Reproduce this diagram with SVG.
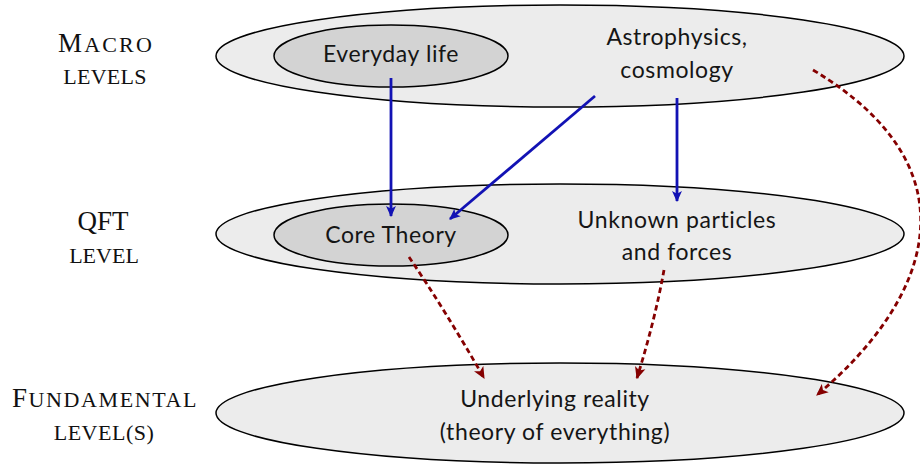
<svg xmlns="http://www.w3.org/2000/svg" width="920" height="465" viewBox="0 0 920 465">
<style>
.outer{fill:#ececec;stroke:#000;stroke-width:1.5}
.inner{fill:#d3d3d3;stroke:#000;stroke-width:1.5}
.t{font-family:"Lato","Open Sans",sans-serif;font-size:23px;letter-spacing:0.6px;fill:#151515;text-anchor:middle}
.lab{font-family:"Liberation Serif","Times New Roman",serif;fill:#111;text-anchor:middle}
.big{font-size:27px}
.sm{font-size:22px}
.blue{stroke:#1212b4;stroke-width:2.8;fill:none}
.red{stroke:#850000;stroke-width:2.8;fill:none;stroke-dasharray:5.5 3.5}
</style>
<defs>
<marker id="ab" viewBox="0 0 10 10" refX="9" refY="5" markerWidth="11" markerHeight="11" markerUnits="userSpaceOnUse" orient="auto">
<path d="M0,0.5 L10,5 L0,9.5 L2.5,5 z" fill="#1212b4"/>
</marker>
<marker id="ar" viewBox="0 0 10 10" refX="9" refY="5" markerWidth="12" markerHeight="12" markerUnits="userSpaceOnUse" orient="auto">
<path d="M0,0.5 L10,5 L0,9.5 L2.5,5 z" fill="#850000"/>
</marker>
</defs>
<g id="labels">
<text class="lab" x="106" y="52" letter-spacing="2.2"><tspan class="big">M</tspan><tspan class="sm">ACRO</tspan></text>
<text class="lab sm" x="105" y="84" letter-spacing="0.3">LEVELS</text>
<text class="lab big" x="103" y="230">QFT</text>
<text class="lab sm" x="104" y="263">LEVEL</text>
<text class="lab" x="105" y="407" letter-spacing="1.6"><tspan class="big">F</tspan><tspan class="sm">UNDAMENTAL</tspan></text>
<text class="lab sm" x="104" y="440" letter-spacing="0.5">LEVEL(S)</text>
</g>
<g id="macro">
<ellipse class="outer" cx="560" cy="56" rx="344" ry="51"/>
<text class="t" x="677" y="45">Astrophysics,</text>
<text class="t" x="677" y="78">cosmology</text>
</g>
<g id="everyday">
<ellipse class="inner" cx="391" cy="56" rx="117" ry="31"/>
<text class="t" x="391" y="62">Everyday life</text>
</g>
<g id="qft">
<ellipse class="outer" cx="560" cy="234" rx="344" ry="50"/>
<text class="t" x="677" y="228">Unknown particles</text>
<text class="t" x="677" y="260">and forces</text>
</g>
<g id="core">
<ellipse class="inner" cx="391" cy="235" rx="117" ry="31"/>
<text class="t" x="391" y="243">Core Theory</text>
</g>
<g id="fundamental">
<ellipse class="outer" cx="560" cy="413" rx="344" ry="50"/>
<text class="t" x="555" y="407">Underlying reality</text>
<text class="t" x="555" y="440">(theory of everything)</text>
</g>
<g id="connectors">
<path class="blue" d="M391,78 L391,216" marker-end="url(#ab)"/>
<path class="blue" d="M595,96 L450,219" marker-end="url(#ab)"/>
<path class="blue" d="M677,98 L677,201" marker-end="url(#ab)"/>
<path class="red" d="M409,257 Q445,310 484,378" marker-end="url(#ar)"/>
<path class="red" d="M664,270 Q655,320 637,378" marker-end="url(#ar)"/>
<path class="red" d="M813,70 C980,170 930,300 817,395" marker-end="url(#ar)"/>
</g>
</svg>
